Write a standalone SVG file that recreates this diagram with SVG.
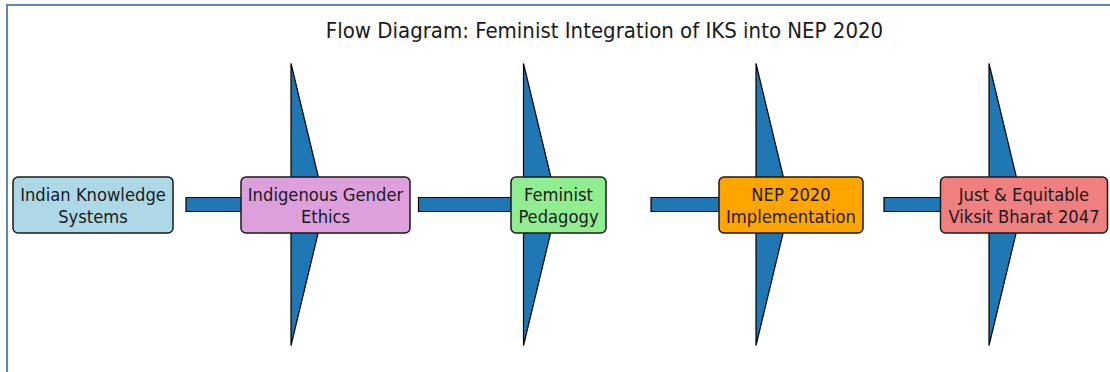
<svg xmlns="http://www.w3.org/2000/svg" width="1110" height="372" viewBox="0 0 1110 372">
<style>
.frame{fill:none;stroke:#5a86c4;stroke-width:2}
.arr{fill:#1f77b4;stroke:#000;stroke-width:1.2;stroke-linejoin:miter}
.box{stroke:#1a1a1a;stroke-width:1.5}
.lbl{font-family:"DejaVu Sans Condensed","DejaVu Sans",sans-serif;font-size:18.2px;fill:#1a1a1a;text-anchor:middle}
.title{font-family:"DejaVu Sans Condensed","DejaVu Sans",sans-serif;font-size:22px;fill:#1a1a1a;text-anchor:middle}
</style>
<rect width="1110" height="372" fill="#fff"/>
<path class="frame" d="M7,372 V5 H1110"/>
<text class="title" x="604.5" y="38.3">Flow Diagram: Feminist Integration of IKS into NEP 2020</text>
<g id="connectors">
<path class="arr" d="M186,197.5 H291 V63.5 L325,204.5 L291,345.5 V211.5 H186 Z"/>
<path class="arr" d="M418.5,197.5 H523.5 V63.5 L557.5,204.5 L523.5,345.5 V211.5 H418.5 Z"/>
<path class="arr" d="M651,197.5 H756 V63.5 L790,204.5 L756,345.5 V211.5 H651 Z"/>
<path class="arr" d="M884,197.5 H989 V63.5 L1023,204.5 L989,345.5 V211.5 H884 Z"/>
</g>
<g id="n1"><rect class="box" x="13" y="177" width="160" height="56" rx="5" fill="#add8e6"/><text class="lbl" x="93" y="200.5">Indian Knowledge</text><text class="lbl" x="93" y="222.5">Systems</text></g>
<g id="n2"><rect class="box" x="241" y="177" width="169" height="56" rx="5" fill="#dda0dd"/><text class="lbl" x="325.5" y="200.5">Indigenous Gender</text><text class="lbl" x="325.5" y="222.5">Ethics</text></g>
<g id="n3"><rect class="box" x="511" y="177" width="95" height="56" rx="5" fill="#90ee90"/><text class="lbl" x="558.5" y="200.5">Feminist</text><text class="lbl" x="558.5" y="222.5">Pedagogy</text></g>
<g id="n4"><rect class="box" x="719" y="177" width="144" height="56" rx="5" fill="#ffa500"/><text class="lbl" x="791" y="200.5">NEP 2020</text><text class="lbl" x="791" y="222.5">Implementation</text></g>
<g id="n5"><rect class="box" x="940.5" y="177" width="167" height="56" rx="5" fill="#f08080"/><text class="lbl" x="1024" y="200.5">Just &amp; Equitable</text><text class="lbl" x="1024" y="222.5">Viksit Bharat 2047</text></g>
</svg>
